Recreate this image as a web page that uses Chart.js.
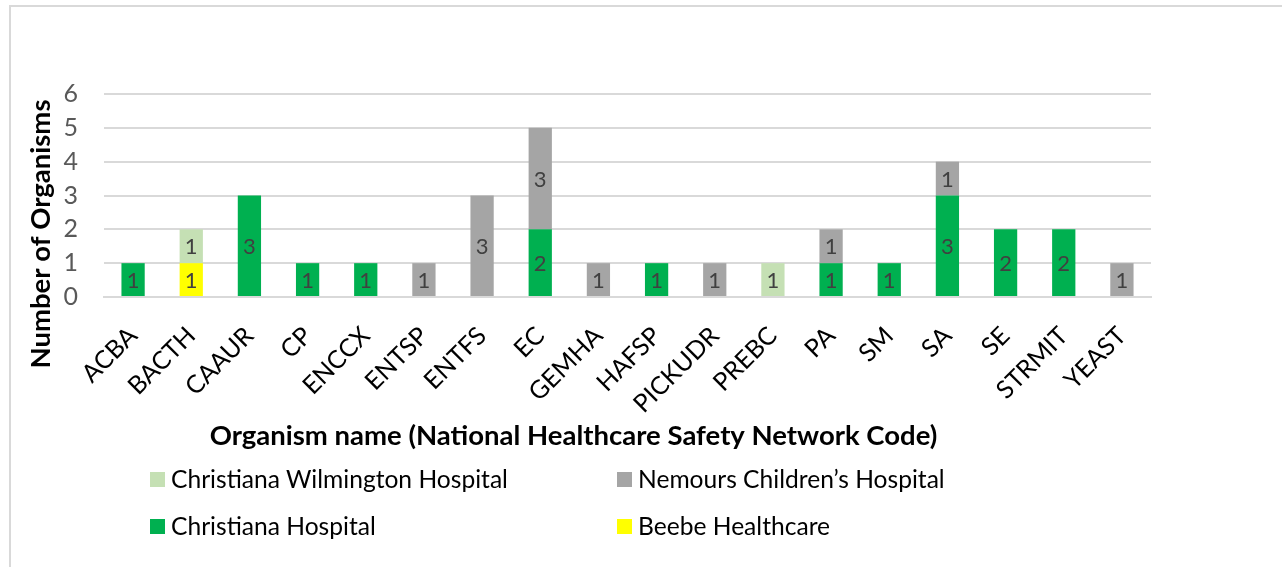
<!DOCTYPE html>
<html>
<head>
<meta charset="utf-8">
<script src="https://cdn.jsdelivr.net/npm/chart.js@4.4.1/dist/chart.umd.min.js"></script>
<style>
html,body{margin:0;padding:0;background:#fff;}
#wrap{position:relative;width:1282px;height:567px;overflow:hidden;background:#fff;}
#frame{position:absolute;left:9px;top:5px;width:1400px;height:800px;border:2px solid #d9d9d9;box-sizing:border-box;}
#c{position:absolute;left:0;top:0;}
.leg{position:absolute;font-family:Lato, sans-serif;font-size:24.6px;color:#000;white-space:nowrap;line-height:24px;height:24px;}
.leg span.box{position:absolute;width:15px;height:15px;}
</style>
</head>
<body>
<div id="wrap">
  <div id="frame"></div>
  <canvas id="c" width="1282" height="567"></canvas>
</div>
<script>
// ---- data ----
const categories = ['ACBA','BACTH','CAAUR','CP','ENCCX','ENTSP','ENTFS','EC','GEMHA','HAFSP','PICKUDR','PREBC','PA','SM','SA','SE','STRMIT','YEAST'];
const beebeHealthcare       = [null,1,null,null,null,null,null,null,null,null,null,null,null,null,null,null,null,null];
const christianaHospital    = [1,null,3,1,1,null,null,2,null,1,null,null,1,1,3,2,2,null];
const nemoursChildrens      = [null,null,null,null,null,1,3,3,1,null,1,null,1,null,1,null,null,1];
const christianaWilmington  = [null,1,null,null,null,null,null,null,null,null,null,1,null,null,null,null,null,null];
const seriesNames = ['Beebe Healthcare','Christiana Hospital','Nemours Children\u2019s Hospital','Christiana Wilmington Hospital'];
const yTickValues = [0,1,2,3,4,5,6];
const xAxisTitle = 'Organism name (National Healthcare Safety Network Code)';
const yAxisTitle = 'Number of Organisms';

// ---- styles ----
const colors = ['#FFFF00','#00B050','#A5A5A5','#C5E0B4'];
const FONT = 'Lato, sans-serif';
const TICK_SIZE = 25;
const LABEL_SIZE = 22;
const TITLE_SIZE = 27.5;

const seriesData = [beebeHealthcare, christianaHospital, nemoursChildrens, christianaWilmington];

const datasets = seriesData.map((d,i)=>({
  label: seriesNames[i],
  data: d,
  backgroundColor: colors[i],
  borderWidth: 0,
  barPercentage: 0.4,
  categoryPercentage: 1.0
}));

const valueLabels = {
  id:'valueLabels',
  afterDatasetsDraw(chart){
    const ctx = chart.ctx;
    ctx.save();
    ctx.font = LABEL_SIZE + 'px ' + FONT;
    ctx.fillStyle = '#404040';
    ctx.textAlign = 'center';
    ctx.textBaseline = 'middle';
    chart.data.datasets.forEach((ds,di)=>{
      const meta = chart.getDatasetMeta(di);
      meta.data.forEach((el,i)=>{
        const v = ds.data[i];
        if (v === null || v === undefined) return;
        ctx.fillText(String(v), el.x, (el.y + el.base)/2 + 1);
      });
    });
    ctx.restore();
  }
};

const axisTitles = {
  id:'axisTitles',
  afterDraw(chart){
    const ctx = chart.ctx;
    ctx.save();
    ctx.font = 'bold ' + TITLE_SIZE + 'px ' + FONT;
    ctx.fillStyle = '#000';
    ctx.textAlign = 'center';
    ctx.textBaseline = 'middle';
    ctx.fillText(xAxisTitle, 573.5, 436);
    ctx.translate(41, 234);
    ctx.rotate(-Math.PI/2);
    ctx.fillText(yAxisTitle, 0, 0);
    ctx.restore();
  }
};

new Chart(document.getElementById('c'), {
  type:'bar',
  data:{ labels: categories, datasets },
  options:{
    responsive:false,
    animation:false,
    events:[],
    layout:{ padding:{ top:94, left:0, right:131, bottom:0 } },
    plugins:{ legend:{display:false}, tooltip:{enabled:false}, title:{display:false} },
    scales:{
      x:{
        stacked:true,
        grid:{ display:false, drawTicks:false },
        border:{ display:true, color:'#d9d9d9', width:2 },
        ticks:{ color:'#000', font:{family:FONT, size:TICK_SIZE}, minRotation:45, maxRotation:45, autoSkip:false, padding:24 },
        afterFit(s){ s.height = 270; }
      },
      y:{
        stacked:true,
        min:0, max:6,
        afterBuildTicks(s){ s.ticks = yTickValues.map(v=>({value:v})); },
        grid:{ color:'#d9d9d9', lineWidth:2, drawTicks:false },
        border:{ display:false },
        ticks:{ color:'#595959', font:{family:FONT, size:TICK_SIZE}, padding:26 },
        afterFit(s){ s.width = 104; }
      }
    }
  },
  plugins:[valueLabels, axisTitles]
});

// ---- legend (HTML, built from series names/colors) ----
const legendOrder = [3,2,1,0];
const legendPos = [[150,479],[617,479],[150,526],[617,526]];
const wrap = document.getElementById('wrap');
legendOrder.forEach((si,k)=>{
  const [bx,cy] = legendPos[k];
  const item = document.createElement('div');
  item.className = 'leg';
  item.style.left = bx + 'px';
  item.style.top = (cy - 12) + 'px';
  const box = document.createElement('span');
  box.className = 'box';
  box.style.background = colors[si];
  box.style.left = '0px';
  box.style.top = '4.5px';
  const txt = document.createElement('span');
  txt.textContent = seriesNames[si];
  txt.style.marginLeft = '21px';
  item.appendChild(box);
  item.appendChild(txt);
  wrap.appendChild(item);
});
</script>
</body>
</html>
